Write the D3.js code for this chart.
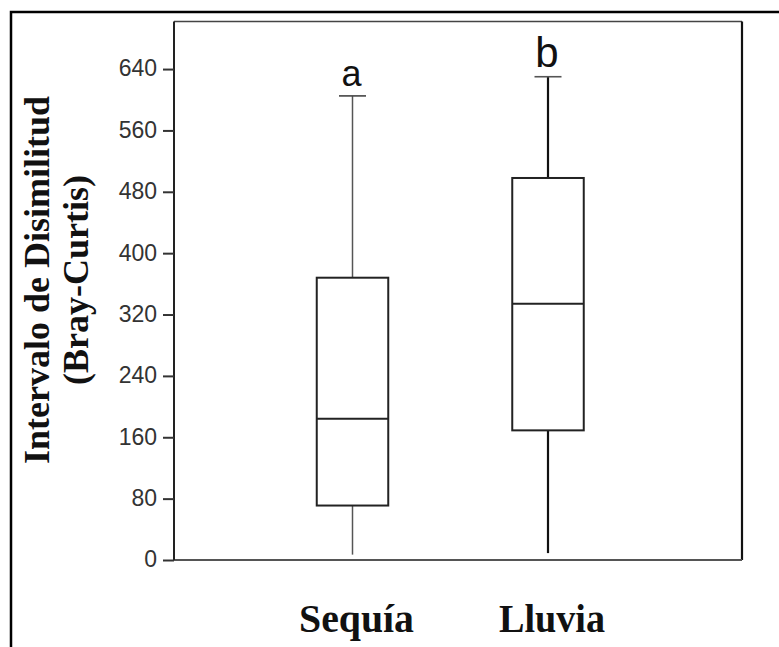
<!DOCTYPE html>
<html>
<head>
<meta charset="utf-8">
<script src="https://cdn.jsdelivr.net/npm/d3@7"></script>
<style>
  html, body { margin: 0; padding: 0; background: #fff; }
  svg { display: block; }
</style>
</head>
<body>
<svg id="chart" width="779" height="647"></svg>
<script>
// ---- data ----
const categories = ["Sequía", "Lluvia"];
const mins    = [7, 9];
const q1s     = [71, 169];
const medians = [184, 334];
const q3s     = [368, 498];
const maxs    = [605, 630];
const groupLetters = ["a", "b"];
const yTicks = [0, 80, 160, 240, 320, 400, 480, 560, 640];
const yTitleLines = ["Intervalo de Disimilitud", "(Bray-Curtis)"];

// ---- layout ----
const W = 779, H = 647;
const plot = { left: 174, top: 21.5, right: 742, bottom: 560 };

const svg = d3.select("#chart");

const y = d3.scaleLinear().domain([0, 702]).range([plot.bottom, plot.top]);
const x = d3.scalePoint().domain(categories).range([352.5, 548]);
const boxW = 71.5, capW = 27;

// outer frame (only top and left edges visible)
svg.append("path")
  .attr("d", `M11,${H + 2} V12 H${W + 2}`)
  .attr("fill", "none").attr("stroke", "#000").attr("stroke-width", 2.5);

// plot frame
const frame = svg.append("g");
frame.append("line").attr("x1", plot.left).attr("x2", plot.right).attr("y1", plot.top).attr("y2", plot.top)
  .attr("stroke", "#444").attr("stroke-width", 1.6);
frame.append("line").attr("x1", plot.right).attr("x2", plot.right).attr("y1", plot.top).attr("y2", plot.bottom)
  .attr("stroke", "#111").attr("stroke-width", 2.2);
frame.append("line").attr("x1", plot.left).attr("x2", plot.right).attr("y1", plot.bottom).attr("y2", plot.bottom)
  .attr("stroke", "#555").attr("stroke-width", 2);

// y axis
const yAxis = d3.axisLeft(y).tickValues(yTicks).tickSize(11).tickPadding(6).tickSizeOuter(0);
const gy = svg.append("g").attr("transform", `translate(${plot.left},0)`).call(yAxis);
gy.select(".domain").attr("stroke", "#222").attr("stroke-width", 2)
  .attr("d", `M0,${plot.top}V${plot.bottom}`);
gy.selectAll(".tick line").attr("stroke", "#333").attr("stroke-width", 2);
gy.selectAll(".tick text")
  .attr("fill", "#333")
  .attr("dy", "0.3em")
  .style("font-family", "'Liberation Sans', Arial, sans-serif")
  .style("font-size", "23px");

// y title
const titleG = svg.append("g").attr("transform", "translate(0,280) rotate(-90)");
titleG.append("text")
  .attr("x", 0).attr("y", 49)
  .attr("text-anchor", "middle")
  .style("font-family", "'Liberation Serif', 'Times New Roman', serif")
  .style("font-weight", "bold").style("font-size", "36px")
  .attr("fill", "#111")
  .text(yTitleLines[0]);
titleG.append("text")
  .attr("x", 0).attr("y", 88)
  .attr("text-anchor", "middle")
  .style("font-family", "'Liberation Serif', 'Times New Roman', serif")
  .style("font-weight", "bold").style("font-size", "36px")
  .attr("fill", "#111")
  .text(yTitleLines[1]);

// boxes
const data = categories.map((c, i) => ({
  cat: c, min: mins[i], q1: q1s[i], med: medians[i], q3: q3s[i], max: maxs[i], letter: groupLetters[i], i
}));
const whiskerColor = ["#555", "#111"];
const whiskerWidth = [1.5, 2.2];
const capColor = ["#444", "#555"];

const g = svg.selectAll(".box").data(data).enter().append("g").attr("class", "box");

// lower whisker
g.append("line")
  .attr("x1", d => x(d.cat)).attr("x2", d => x(d.cat))
  .attr("y1", d => y(d.min)).attr("y2", d => y(d.q1))
  .attr("stroke", d => whiskerColor[d.i]).attr("stroke-width", d => whiskerWidth[d.i]);
// upper whisker
g.append("line")
  .attr("x1", d => x(d.cat)).attr("x2", d => x(d.cat))
  .attr("y1", d => y(d.max)).attr("y2", d => y(d.q3))
  .attr("stroke", d => whiskerColor[d.i]).attr("stroke-width", d => whiskerWidth[d.i]);
// cap
g.append("line")
  .attr("x1", d => x(d.cat) - capW / 2).attr("x2", d => x(d.cat) + capW / 2)
  .attr("y1", d => y(d.max)).attr("y2", d => y(d.max))
  .attr("stroke", d => capColor[d.i]).attr("stroke-width", 1.6);
// box
g.append("rect")
  .attr("x", d => x(d.cat) - boxW / 2).attr("width", boxW)
  .attr("y", d => y(d.q3)).attr("height", d => y(d.q1) - y(d.q3))
  .attr("fill", "#fff").attr("stroke", "#222").attr("stroke-width", 2);
// median
g.append("line")
  .attr("x1", d => x(d.cat) - boxW / 2).attr("x2", d => x(d.cat) + boxW / 2)
  .attr("y1", d => y(d.med)).attr("y2", d => y(d.med))
  .attr("stroke", "#222").attr("stroke-width", 2);
// letters
const letterSize = [36, 42];
g.append("text")
  .attr("x", d => x(d.cat) - 1)
  .attr("y", d => y(d.max) - 9.5)
  .attr("text-anchor", "middle")
  .style("font-family", "'Liberation Sans', Arial, sans-serif")
  .style("font-size", d => letterSize[d.i] + "px")
  .attr("fill", "#111")
  .text(d => d.letter);

// x category labels
const xLabelLen = [115, 106];
svg.selectAll(".xlab").data(categories).enter().append("text")
  .attr("class", "xlab")
  .attr("x", d => x(d) + 4)
  .attr("y", 631.5)
  .attr("text-anchor", "middle")
  .attr("textLength", (d, i) => xLabelLen[i])
  .attr("lengthAdjust", "spacingAndGlyphs")
  .style("font-family", "'Liberation Serif', 'Times New Roman', serif")
  .style("font-weight", "bold").style("font-size", "41px")
  .attr("fill", "#111")
  .text(d => d);
</script>
</body>
</html>
